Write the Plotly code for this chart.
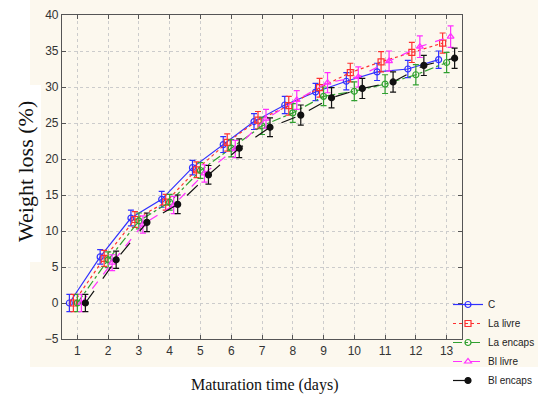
import plotly.graph_objects as go

days = list(range(1, 14))
x_tick_labels = [str(d) for d in days]

series_names = ["C", "La livre", "La encaps", "Bl livre", "Bl encaps"]

c_vals = [0, 6.4, 11.8, 14.4, 18.8, 22.0, 25.2, 27.5, 29.3, 30.8, 32.1, 32.5, 33.8]
la_livre_vals = [0, 6.2, 11.6, 14.0, 18.5, 22.3, 25.4, 27.4, 29.9, 32.0, 33.5, 34.8, 36.1]
la_encaps_vals = [0, 6.0, 11.4, 14.0, 18.4, 21.5, 24.6, 26.4, 28.7, 29.4, 30.4, 31.7, 33.4]
bl_livre_vals = [0, 5.6, 10.9, 13.6, 18.0, 21.4, 25.6, 28.2, 30.6, 31.4, 33.6, 35.6, 37.0]
bl_encaps_vals = [0, 6.0, 11.2, 13.7, 17.8, 21.5, 24.4, 26.1, 28.5, 29.8, 30.7, 33.0, 34.0]

c_err = [1.2, 1.0, 1.1, 1.1, 1.0, 1.1, 1.1, 1.2, 1.2, 1.2, 1.2, 1.2, 1.2]
la_livre_err = [1.2, 1.1, 1.1, 1.1, 1.1, 1.2, 1.2, 1.3, 1.3, 1.3, 1.4, 1.4, 1.4]
la_encaps_err = [1.2, 1.1, 1.1, 1.1, 1.1, 1.2, 1.2, 1.3, 1.3, 1.3, 1.3, 1.4, 1.4]
bl_livre_err = [1.2, 1.1, 1.2, 1.2, 1.2, 1.2, 1.3, 1.3, 1.4, 1.4, 1.4, 1.5, 1.5]
bl_encaps_err = [1.2, 1.2, 1.3, 1.3, 1.3, 1.3, 1.3, 1.4, 1.4, 1.4, 1.4, 1.4, 1.4]

all_vals = [c_vals, la_livre_vals, la_encaps_vals, bl_livre_vals, bl_encaps_vals]
all_errs = [c_err, la_livre_err, la_encaps_err, bl_livre_err, bl_encaps_err]

# style
colors = ["#3030ff", "#ff3030", "#30a030", "#ff30ff", "#111111"]
dashes = ["solid", "dot", "dashdot", "dash", "longdash"]
symbols = ["circle-open", "square-open", "circle-open", "triangle-up-open", "circle"]
offsets = [-0.26, -0.13, 0.0, 0.13, 0.26]

fig = go.Figure()
for name, vals, errs, col, dsh, sym, off in zip(series_names, all_vals, all_errs,
                                                 colors, dashes, symbols, offsets):
    fig.add_trace(go.Scatter(
        x=[d + off for d in days], y=vals, name=name,
        mode="lines+markers",
        line=dict(color=col, width=1.2, dash=dsh),
        marker=dict(symbol=sym, size=6, color=col, line=dict(color=col, width=1.2)),
        error_y=dict(type="data", array=errs, visible=True, color=col,
                     thickness=1.2, width=3),
    ))

# pixel -> paper helpers (plot area 62..462 x, 15..339 y)
def px(x):
    return (x - 62) / 400.0

def py(y):
    return (339 - y) / 324.0

shapes = [
    dict(type="rect", xref="paper", yref="paper", x0=px(30), x1=px(540),
         y0=py(367), y1=py(-2), fillcolor="#fcf8ee", line=dict(width=0), layer="below"),
    dict(type="rect", xref="paper", yref="paper", x0=px(-2), x1=px(41),
         y0=py(262), y1=py(85), fillcolor="white", line=dict(width=0), layer="below"),
]

axis_common = dict(
    showline=True, linecolor="#555555", linewidth=1.2, mirror="ticks",
    ticks="inside", ticklen=4, tickcolor="#555555",
    showgrid=True, gridcolor="#cccccc", griddash="dot", gridwidth=1,
    zeroline=False,
    tickfont=dict(family="Arial, Liberation Sans", size=12, color="#333333"),
)

fig.update_layout(
    width=538, height=400,
    margin=dict(l=62, r=76, t=15, b=61, autoexpand=False),
    paper_bgcolor="white", plot_bgcolor="white",
    shapes=shapes,
    xaxis=dict(range=[0.5, 13.5], tickmode="array", tickvals=days,
               ticktext=x_tick_labels, **axis_common),
    yaxis=dict(range=[-5, 40], tickmode="array",
               tickvals=list(range(-5, 41, 5)), **axis_common),
    showlegend=True,
    legend=dict(x=px(448), y=py(290), xanchor="left", yanchor="top",
                bgcolor="rgba(0,0,0,0)", tracegroupgap=0,
                font=dict(family="Arial, Liberation Sans", size=10, color="#222222"),
                itemwidth=30),
    annotations=[
        dict(text="Maturation time (days)", xref="paper", yref="paper",
             x=px(265), y=py(385), showarrow=False, xanchor="center", yanchor="middle",
             font=dict(family="Liberation Serif, Times New Roman", size=16, color="#111111")),
        dict(text="Weight loss (%)", xref="paper", yref="paper",
             x=px(25), y=py(172), showarrow=False, textangle=-90,
             xanchor="center", yanchor="middle",
             font=dict(family="Liberation Serif, Times New Roman", size=22, color="#111111")),
    ],
)

fig.write_html("out.html", config={"displayModeBar": False},
               post_script="document.body.style.margin='0';document.body.style.overflow='hidden';")
